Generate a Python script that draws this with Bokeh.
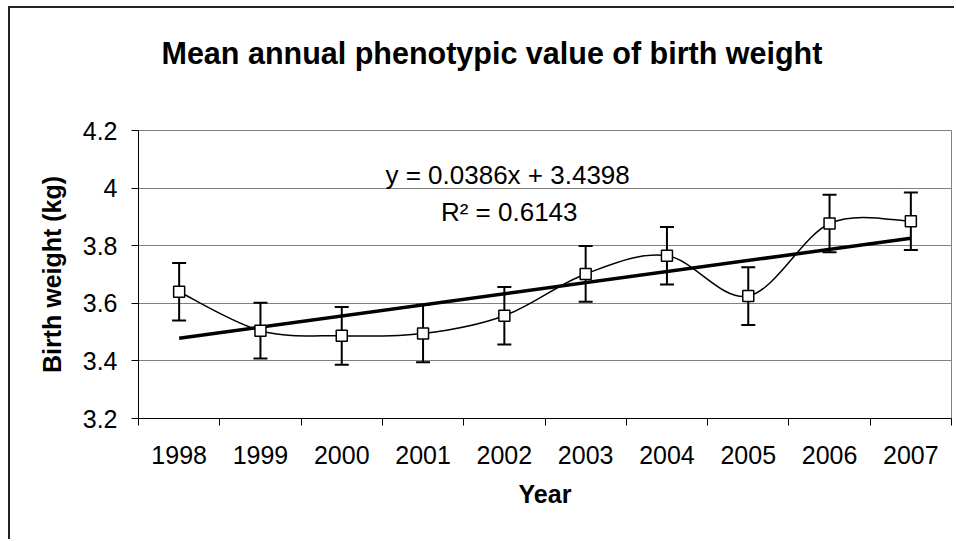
from bokeh.plotting import figure
from bokeh.models import FixedTicker, Label, Whisker, TeeHead, ColumnDataSource, Range1d
from bokeh.embed import file_html
from bokeh.resources import INLINE

# ---- data ----
years = ["1998", "1999", "2000", "2001", "2002", "2003", "2004", "2005", "2006", "2007"]
birth_weight = [3.64, 3.505, 3.487, 3.495, 3.557, 3.702, 3.765, 3.625, 3.877, 3.885]
error = [0.10, 0.097, 0.10, 0.10, 0.10, 0.097, 0.10, 0.10, 0.10, 0.10]
trend_slope = 0.0386
trend_intercept = 3.4398
y_ticks = [3.2, 3.4, 3.6, 3.8, 4.0, 4.2]
y_tick_labels = ["3.2", "3.4", "3.6", "3.8", "4", "4.2"]
title_text = "Mean annual phenotypic value of birth weight"
equation_text = "y = 0.0386x + 3.4398"
r2_text = "R\u00b2 = 0.6143"

FONT = "Liberation Sans"

xs = list(range(1, len(years) + 1))

p = figure(width=946, height=533, output_backend="svg", toolbar_location=None,
           x_range=Range1d(0.5, len(years) + 0.5), y_range=Range1d(3.2, 4.2),
           min_border_left=128, min_border_right=5, min_border_top=122, min_border_bottom=123,
           styles={"border-left": "2px solid #222222", "border-top": "2px solid #222222",
                   "margin-left": "8px", "margin-top": "6px"})
p.background_fill_color = "white"
p.border_fill_color = "white"
p.outline_line_color = "#808080"
p.outline_line_width = 1

# title (trailing empty line keeps it higher above the plot area)
p.title.text = title_text + "\n"
p.title.text_font = FONT
p.title.text_font_size = "30.5px"
p.title.text_font_style = "bold"
p.title.text_color = "black"
p.title.align = "left"
p.title.offset = 23
p.title.vertical_align = "top"
p.title.standoff = 50

# axes
p.xaxis.ticker = FixedTicker(ticks=xs, minor_ticks=[i + 0.5 for i in range(0, len(years) + 1)])
p.xaxis.major_label_overrides = {x: y for x, y in zip(xs, years)}
p.xaxis.major_tick_line_alpha = 0
p.xaxis.major_tick_out = 7
p.xaxis.major_tick_in = 0
p.xaxis.minor_tick_out = 7
p.xaxis.minor_tick_in = 0
p.xaxis.minor_tick_line_color = "black"
p.xaxis.major_label_standoff = 20
p.xaxis.axis_label = "Year"
p.xaxis.axis_label_standoff = 13

p.yaxis.ticker = FixedTicker(ticks=y_ticks, minor_ticks=[])
p.yaxis.major_label_overrides = {t: l for t, l in zip(y_ticks, y_tick_labels)}
p.yaxis.major_tick_out = 7
p.yaxis.major_tick_in = 0
p.yaxis.major_tick_line_color = "black"
p.yaxis.major_label_standoff = 14
p.yaxis.axis_label = "Birth weight (kg)"
p.yaxis.axis_label_standoff = 14

for ax in (p.xaxis[0], p.yaxis[0]):
    ax.axis_line_color = "black"
    ax.axis_line_width = 1
    ax.major_label_text_font = FONT
    ax.major_label_text_font_size = "25px"
    ax.major_label_text_color = "black"
    ax.axis_label_text_font = FONT
    ax.axis_label_text_font_size = "25px"
    ax.axis_label_text_font_style = "bold"
    ax.axis_label_text_color = "black"

p.xgrid.visible = False
p.ygrid.ticker = FixedTicker(ticks=y_ticks)
p.ygrid.grid_line_color = "#808080"
p.ygrid.grid_line_width = 1

# trend line
trend_x = [xs[0], xs[-1]]
trend_y = [trend_slope * x + trend_intercept for x in trend_x]
p.line(trend_x, trend_y, line_color="black", line_width=3.5)

# smoothed line (Catmull-Rom style bezier segments through the data points)
n = len(xs)
x0s, y0s, x1s, y1s, cx0, cy0, cx1, cy1 = [], [], [], [], [], [], [], []
for i in range(n - 1):
    pm = i - 1 if i > 0 else i
    pp = i + 2 if i + 2 < n else i + 1
    x0s.append(xs[i]); y0s.append(birth_weight[i])
    x1s.append(xs[i + 1]); y1s.append(birth_weight[i + 1])
    cx0.append(xs[i] + (xs[i + 1] - xs[pm]) / 6)
    cy0.append(birth_weight[i] + (birth_weight[i + 1] - birth_weight[pm]) / 6)
    cx1.append(xs[i + 1] - (xs[pp] - xs[i]) / 6)
    cy1.append(birth_weight[i + 1] - (birth_weight[pp] - birth_weight[i]) / 6)
p.bezier(x0=x0s, y0=y0s, x1=x1s, y1=y1s, cx0=cx0, cy0=cy0, cx1=cx1, cy1=cy1,
         line_color="black", line_width=1.5)

# error bars
src = ColumnDataSource(dict(x=xs, y=birth_weight,
                            upper=[v + e for v, e in zip(birth_weight, error)],
                            lower=[v - e for v, e in zip(birth_weight, error)]))
wh = Whisker(source=src, base="x", upper="upper", lower="lower",
             line_color="black", line_width=2,
             upper_head=TeeHead(size=14, line_color="black", line_width=2),
             lower_head=TeeHead(size=14, line_color="black", line_width=2))
p.add_layout(wh)

# markers
p.scatter("x", "y", source=src, marker="square", size=11, fill_color="white",
          line_color="black", line_width=1.5)

# texts
p.add_layout(Label(x=5.04, y=4.044, text=equation_text, text_font=FONT, text_font_size="26px",
                   text_align="center", text_baseline="middle", text_color="black"))
p.add_layout(Label(x=5.06, y=3.916, text=r2_text, text_font=FONT, text_font_size="26px",
                   text_align="center", text_baseline="middle", text_color="black"))

open("out.html", "w").write(file_html(p, INLINE))
